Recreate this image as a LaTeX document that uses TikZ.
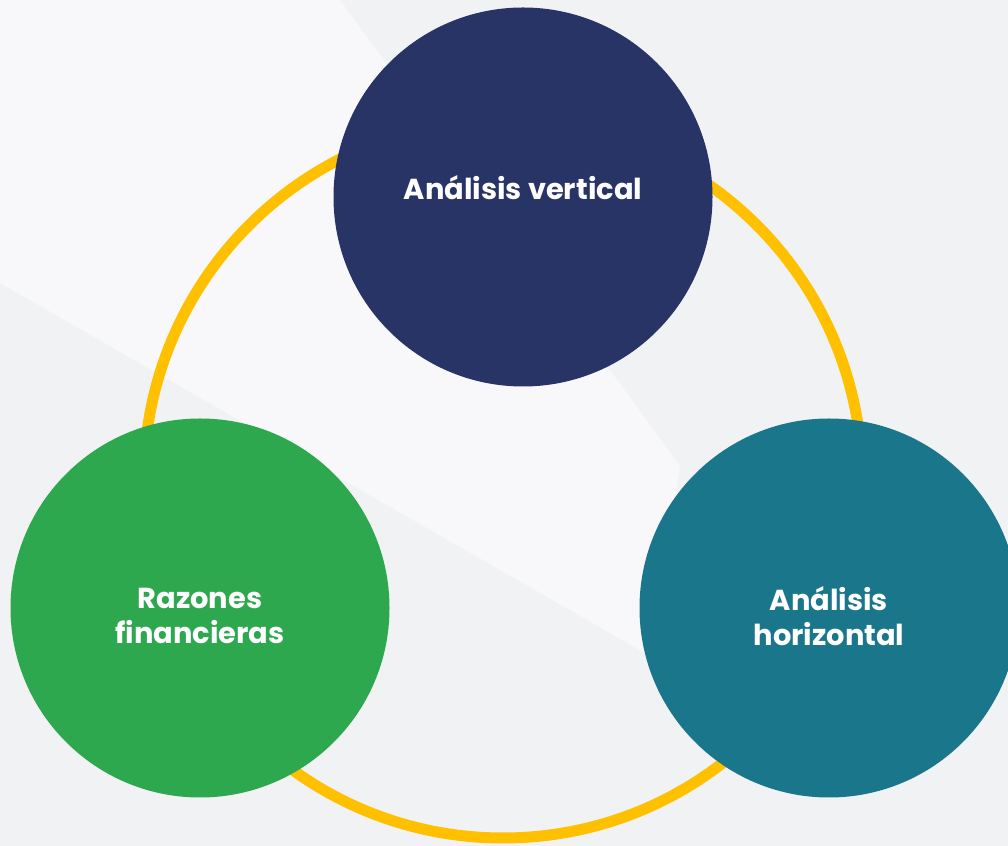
\documentclass[tikz,border=0pt]{standalone}
\usepackage{fontspec}
\setmainfont{Poppins}
\definecolor{navy}{HTML}{283366}
\definecolor{leaf}{HTML}{2EA84F}
\definecolor{petrol}{HTML}{1A768A}
\definecolor{gold}{HTML}{FFC000}
\definecolor{bggray}{HTML}{F1F2F4}
\definecolor{bglight}{HTML}{F8F8FA}
\begin{document}
\begin{tikzpicture}[x=1bp,y=1bp,
   disc/.style={circle,minimum size=379bp,inner sep=0pt},
   lbl/.style={text=white,align=center,font=\bfseries\fontsize{29}{35}\selectfont},
   ring/.style={draw=gold,line width=11bp}]
   % 背景
   \useasboundingbox (0,0) rectangle (1008,846);
   \clip (0,0) rectangle (1008,846);
   \fill[bggray] (0,0) rectangle (1008,846);
   \fill[bglight] (0,846) -- (340,846) -- (680,380) -- (650,190) -- (0,563) -- cycle;

   % 輪
   \coordinate (hub) at (503,367);
   \draw[ring] (hub) circle (359);

   % 円
   \node[disc,fill=navy] (vert) at (523,649) {};
   \node[disc,fill=leaf] (razon) at (200,238) {};
   \node[disc,fill=petrol] (horiz) at (829,238) {};

   \node[lbl] (vertT) at ([yshift=9]vert) {Análisis vertical};
   \node[lbl] (razonT) at ([yshift=-8]razon) {Razones\\financieras};
   \node[lbl] (horizT) at ([yshift=-8]horiz) {Análisis\\horizontal};
\end{tikzpicture}
\end{document}
